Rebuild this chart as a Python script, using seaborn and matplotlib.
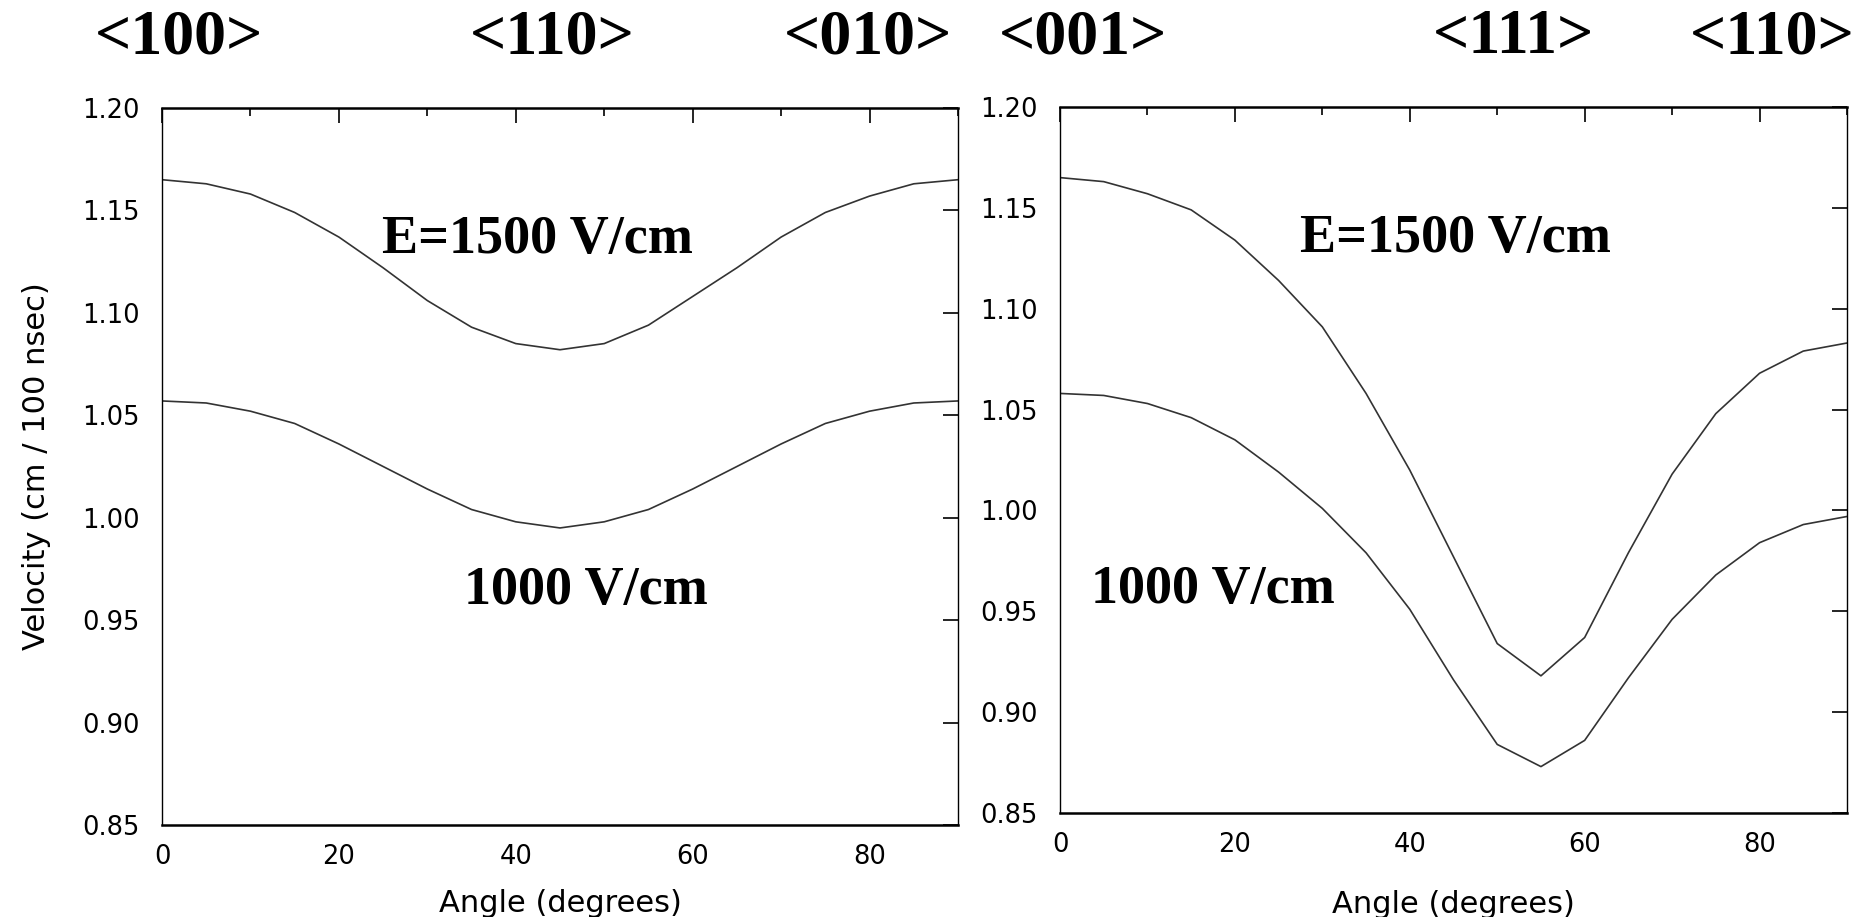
import numpy as np
import pandas as pd
import matplotlib
matplotlib.use("Agg")
import matplotlib.pyplot as plt
import seaborn as sns
from matplotlib.ticker import MultipleLocator, FormatStrFormatter

# angle from the reference direction (degrees)
angles = [0, 5, 10, 15, 20, 25, 30, 35, 40, 45, 50, 55, 60, 65, 70, 75, 80, 85, 90]

# left panel: <100> -> <110> -> <010>
left_1500 = [1.165, 1.163, 1.158, 1.149, 1.137, 1.122, 1.106, 1.093, 1.085, 1.082,
             1.085, 1.094, 1.108, 1.122, 1.137, 1.149, 1.157, 1.163, 1.165]
left_1000 = [1.057, 1.056, 1.052, 1.046, 1.036, 1.025, 1.014, 1.004, 0.998, 0.995,
             0.998, 1.004, 1.014, 1.025, 1.036, 1.046, 1.052, 1.056, 1.057]

# right panel: <001> -> <111> -> <110>
right_1500 = [1.165, 1.163, 1.157, 1.149, 1.134, 1.114, 1.091, 1.058, 1.020, 0.977,
              0.934, 0.918, 0.937, 0.979, 1.018, 1.048, 1.068, 1.079, 1.083]
right_1000 = [1.058, 1.057, 1.053, 1.046, 1.035, 1.019, 1.001, 0.979, 0.951, 0.916,
              0.884, 0.873, 0.886, 0.917, 0.946, 0.968, 0.984, 0.993, 0.997]

left_dirs = ["<100>", "<110>", "<010>"]
right_dirs = ["<001>", "<111>", "<110>"]
field_labels = ["E=1500 V/cm", "1000 V/cm"]

sns.set_style("white")
plt.rcParams["font.family"] = ["DejaVu Sans"]
plt.rcParams["text.color"] = "black"
plt.rcParams["axes.labelcolor"] = "black"
plt.rcParams["xtick.color"] = "black"
plt.rcParams["ytick.color"] = "black"

W, H = 1868, 917
fig = plt.figure(figsize=(W / 100, H / 100), dpi=100)

ax_l = fig.add_axes([162 / W, 1 - 825 / H, 796 / W, 717 / H])
ax_r = fig.add_axes([1060 / W, 1 - 813 / H, 787 / W, 706 / H])


def make_df(v1500, v1000):
    return pd.DataFrame({
        "angle": angles * 2,
        "velocity": v1500 + v1000,
        "field": ["1500"] * len(angles) + ["1000"] * len(angles),
    })


serif = ["Liberation Serif", "DejaVu Serif"]

for ax, v1500, v1000 in [(ax_l, left_1500, left_1000), (ax_r, right_1500, right_1000)]:
    df = make_df(v1500, v1000)
    sns.lineplot(data=df, x="angle", y="velocity", units="field", estimator=None,
                 color="#333333", linewidth=1.2, ax=ax, legend=False)
    ax.set_xlim(0, 90)
    ax.set_ylim(0.85, 1.20)
    ax.xaxis.set_major_locator(MultipleLocator(20))
    ax.xaxis.set_minor_locator(MultipleLocator(10))
    ax.yaxis.set_major_locator(MultipleLocator(0.05))
    ax.yaxis.set_major_formatter(FormatStrFormatter("%.2f"))
    ax.tick_params(which="both", direction="in", top=True, right=True,
                   labelsize=18.5, colors="black")
    ax.tick_params(which="major", length=11, width=1.2)
    ax.tick_params(which="minor", length=6, width=1.2)
    ax.tick_params(axis="x", pad=14)
    ax.tick_params(axis="y", pad=16)
    for side in ["top", "bottom"]:
        ax.spines[side].set_linewidth(1.8)
        ax.spines[side].set_color("black")
    for side in ["left", "right"]:
        ax.spines[side].set_linewidth(1.0)
        ax.spines[side].set_color("black")
    ax.set_xlabel("Angle (degrees)", fontsize=22, va="top")
    ax.set_ylabel("")

# keep the x labels inside the picture
ax_l.xaxis.set_label_coords(0.5, -0.089)
ax_r.xaxis.set_label_coords(0.5, -0.109)

ax_l.set_ylabel("Velocity (cm / 100 nsec)", fontsize=22)
ax_l.yaxis.set_label_coords(-0.139, 0.5)

# field labels inside the panels
ax_l.text(42.5, 1.129, field_labels[0], family=serif, weight="bold", fontsize=39,
          ha="center", va="baseline", color="black")
ax_l.text(47.9, 0.958, field_labels[1], family=serif, weight="bold", fontsize=39,
          ha="center", va="baseline", color="black")
ax_r.text(45.2, 1.128, field_labels[0], family=serif, weight="bold", fontsize=39,
          ha="center", va="baseline", color="black")
ax_r.text(17.5, 0.954, field_labels[1], family=serif, weight="bold", fontsize=39,
          ha="center", va="baseline", color="black")

# crystal directions along the top
dir_x = [179, 552, 868, 1083, 1514, 1772]
for label, x in zip(left_dirs + right_dirs, dir_x):
    fig.text(x / W, 1 - 53 / H, label, family=serif, weight="bold", fontsize=46,
             ha="center", va="baseline", color="black")

fig.savefig("out.png", dpi=100, facecolor="white")
